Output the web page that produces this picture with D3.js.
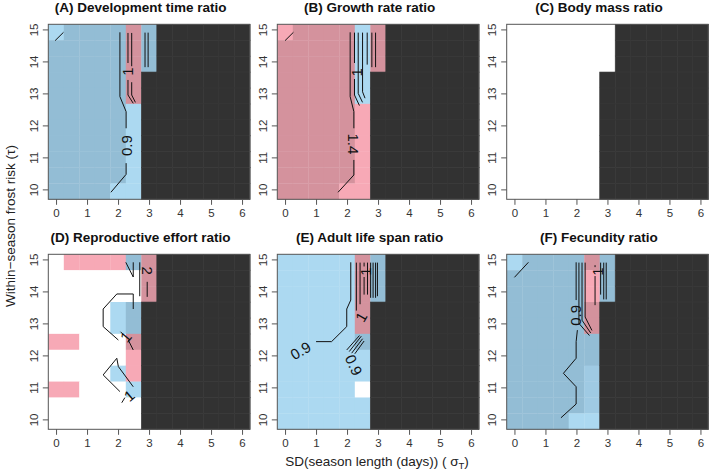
<!DOCTYPE html>
<html><head><meta charset="utf-8">
<script src="https://cdn.jsdelivr.net/npm/d3@7"></script>
<style>
body{margin:0;background:#fff}
svg{display:block}
text{font-family:"Liberation Sans",Arial,Helvetica,sans-serif}
</style>
</head><body>
<svg id="chart" width="709" height="476"></svg>
<script>
// ---------- data ----------
const xValues = [0,0.5,1,1.5,2,2.5,3,3.5,4,4.5,5,5.5,6];           // SD(season length)
const tauValues = [15,14.5,14,13.5,13,12.5,12,11.5,11,10.5,10];     // frost risk, top -> bottom
const xTicks = [0,1,2,3,4,5,6];
const yTicks = [10,11,12,13,14,15];
const titles = ["(A) Development time ratio","(B) Growth rate ratio","(C) Body mass ratio",
                "(D) Reproductive effort ratio","(E) Adult life span ratio","(F) Fecundity ratio"];
// cell classes: d = no data (dark), B = ratio<1 significant, b = ratio<1, m = ratio<1 (intermediate),
// R = ratio>1 significant, r = ratio>1, w = ~1
const gridA = ["bBBBBRBdddddd","BBBBBRBdddddd","BBBBBRBdddddd","BBBBBRddddddd","BBBBBRddddddd",
               "BBBBBbddddddd","BBBBBbddddddd","BBBBBbddddddd","BBBBBbddddddd","BBBBBbddddddd","BBBBbbddddddd"];
const gridB = ["rRRRRbRdddddd","RRRRRbRdddddd","RRRRRbRdddddd","RRRRRbddddddd","RRRRRbddddddd",
               "RRRRRrddddddd","RRRRRrddddddd","RRRRRrddddddd","RRRRRrddddddd","RRRRRrddddddd","RRRRrrddddddd"];
const gridC = ["wwwwwwwdddddd","wwwwwwwdddddd","wwwwwwwdddddd","wwwwwwddddddd","wwwwwwddddddd",
               "wwwwwwddddddd","wwwwwwddddddd","wwwwwwddddddd","wwwwwwddddddd","wwwwwwddddddd","wwwwwwddddddd"];
const gridD = ["wrrrrBRdddddd","wwwwwwRdddddd","wwwwwwRdddddd","wwwwbBddddddd","wwwwbBddddddd",
               "rrwwwRddddddd","wwwwwrddddddd","wwwwbrddddddd","rrwwwbddddddd","wwwwwwddddddd","wwwwwwddddddd"];
const gridE = ["bbbbbRBdddddd","bbbbbRBdddddd","bbbbbRBdddddd","bbbbbRddddddd","bbbbbRddddddd",
               "bbbbbBddddddd","bbbbbbddddddd","bbbbbbddddddd","bbbbbwddddddd","bbbbbbddddddd","bbbbbbddddddd"];
const gridF = ["bBBBBRBdddddd","BBBBBrBdddddd","BBBBBrBdddddd","BBBBBRddddddd","BBBBBRddddddd",
               "BBBBBBddddddd","BBBBBBddddddd","BBBBBmddddddd","BBBBBmddddddd","BBBBBmddddddd","BBBBbbddddddd"];
const palette = {d:"#323232", B:"#93bdd5", b:"#acd9f1", m:"#9fcae3", R:"#d4929d", r:"#f7a9b6", w:"#ffffff"};

// contour lines (x = sigma, y = tau)
const contoursA = [
  [[1.77,9.91],[2.26,10.47],[2.26,10.82]],
  [[2.26,11.91],[2.26,12.43],[2.06,12.90],[2.06,14.91]],
  [[2.32,14.89],[2.32,13.95]],
  [[2.32,13.42],[2.32,12.95],[2.49,12.69]],
  [[2.44,14.89],[2.44,13.85]],
  [[2.44,13.35],[2.44,12.95],[2.56,12.72]],
  [[2.87,14.9],[2.87,13.82]],
  [[2.97,14.9],[2.97,13.82]],
  [[-0.03,14.65],[0.24,14.91]]
];
const labelsA = [{x:2.26,y:11.37,t:"0.9",r:-90},{x:2.30,y:13.68,t:"1",r:-90}];
const contoursB = [
  [[1.71,9.91],[2.22,10.45],[2.22,10.92]],
  [[2.22,11.91],[2.22,12.43],[2.10,12.90],[2.10,14.91]],
  [[2.24,14.9],[2.24,13.95]],
  [[2.24,13.45],[2.24,12.95],[2.40,12.62]],
  [[2.36,14.9],[2.36,13.0],[2.50,12.72]],
  [[2.50,14.9],[2.50,13.05],[2.58,12.85]],
  [[2.65,14.9],[2.65,13.9]],
  [[2.80,14.9],[2.80,13.82]],
  [[2.92,14.9],[2.92,13.82]],
  [[0,14.65],[0.27,14.91]]
];
const labelsB = [{x:2.22,y:11.42,t:"1.4",r:90},{x:2.30,y:13.66,t:"1",r:-90}];
const contoursC = [];
const labelsC = [];
const contoursD = [
  [[2.49,13.45],[2.49,13.92],[1.96,13.92],[1.52,13.45],[1.52,12.90],[2.01,12.48]],
  [[2.06,10.87],[1.52,11.39],[1.96,11.91],[2.01,11.65],[2.49,11.02]],
  [[2.25,14.91],[2.49,14.45]],
  [[2.49,14.91],[2.49,14.45]],
  [[2.70,14.91],[2.70,13.85]],
  [[2.94,14.30],[2.94,13.83]],
  [[2.08,12.74],[2.16,12.66]],
  [[2.33,12.48],[2.49,12.17]],
  [[2.22,10.68],[2.12,10.52]]
];
const labelsD = [{x:2.94,y:14.65,t:"2",r:90},{x:2.25,y:12.58,t:"1",r:-50},{x:2.36,y:10.74,t:"1",r:-40}];
const contoursE = [
  [[1.00,12.43],[1.50,12.43],[1.99,12.90],[1.99,13.45],[2.12,13.73],[2.12,14.91]],
  [[2.30,14.9],[2.30,13.4]],
  [[2.42,14.9],[2.42,13.6]],
  [[2.55,14.9],[2.55,14.78]],[[2.55,14.45],[2.55,13.9]],
  [[2.66,14.9],[2.66,13.9]],
  [[2.76,14.9],[2.76,13.8]],
  [[2.84,14.9],[2.84,13.8]],
  [[2.92,14.9],[2.92,13.8]],
  [[2.98,14.9],[2.98,13.85]],
  [[1.99,12.17],[2.40,12.62]],
  [[2.07,12.12],[2.46,12.60]],
  [[2.15,12.07],[2.50,12.52]],
  [[2.25,12.05],[2.55,12.45]]
];
const labelsE = [{x:0.50,y:12.15,t:"0.9",r:-30},{x:2.22,y:11.70,t:"0.9",r:65},
                 {x:2.58,y:14.62,t:"1",r:-90},{x:2.45,y:13.2,t:"1",r:-60}];
const contoursF = [
  [[1.50,10.05],[1.99,10.48],[1.99,11.02],[1.58,11.44],[1.99,11.91],[1.99,12.43],[2.03,12.79]],
  [[1.99,13.73],[1.99,14.91]],
  [[2.08,14.9],[2.08,13.0],[2.42,12.62]],
  [[2.18,14.9],[2.18,13.1],[2.46,12.70]],
  [[2.28,14.9],[2.28,13.2],[2.50,12.78]],
  [[2.60,14.82],[2.60,14.76]],[[2.60,14.48],[2.60,13.57]],
  [[2.78,14.9],[2.78,13.9]],
  [[2.88,14.9],[2.88,13.75]],
  [[2.96,14.9],[2.96,13.75]],
  [[0,14.44],[0.45,14.91]]
];
const labelsF = [{x:1.97,y:13.25,t:"0.9",r:-90},{x:2.68,y:14.62,t:"1",r:-90}];

const panels = [
  {grid:gridA, contours:contoursA, labels:labelsA},
  {grid:gridB, contours:contoursB, labels:labelsB},
  {grid:gridC, contours:contoursC, labels:labelsC},
  {grid:gridD, contours:contoursD, labels:labelsD},
  {grid:gridE, contours:contoursE, labels:labelsE},
  {grid:gridF, contours:contoursF, labels:labelsF}
];

// ---------- layout ----------
const svg = d3.select("#chart");
const plotLeft = [48.3, 277.3, 506.7];
const plotTop = [24.3, 254.3];
const W = 201.5, H = 175;

panels.forEach((p, i) => {
  const col = i % 3, row = Math.floor(i / 3);
  const L = plotLeft[col], T = plotTop[row];
  const x = d3.scaleLinear().domain([-0.25, 6.25]).range([L, L + W]);
  const y = d3.scaleLinear().domain([9.69, 15.16]).range([T + H, T]);
  const yBand = d3.scaleBand().domain(tauValues).range([T, T + H]);
  const g = svg.append("g");

  const cells = [];
  p.grid.forEach((rowStr, ri) => {
    xValues.forEach((xv, ci) => cells.push({x: xv, tau: tauValues[ri], c: rowStr[ci]}));
  });
  g.selectAll("rect.cell").data(cells).enter().append("rect")
    .attr("x", d => x(d.x - 0.25))
    .attr("y", d => yBand(d.tau))
    .attr("width", d => x(d.x + 0.25) - x(d.x - 0.25) + 0.3)
    .attr("height", yBand.bandwidth() + 0.3)
    .attr("fill", d => palette[d.c])
    .attr("stroke", d => d.c === "d" ? "#3a3a3a" : "none")
    .attr("stroke-width", 0.6);

  // contours
  const line = d3.line().x(d => x(d[0])).y(d => y(d[1]));
  g.selectAll("path.ct").data(p.contours).enter().append("path")
    .attr("d", line).attr("fill", "none").attr("stroke", "#111").attr("stroke-width", 1);
  g.selectAll("text.cl").data(p.labels).enter().append("text")
    .attr("transform", d => `translate(${x(d.x)},${y(d.y)}) rotate(${d.r})`)
    .attr("text-anchor", "middle").attr("dominant-baseline", "central")
    .attr("font-size", 15).attr("fill", "#111").text(d => d.t);

  // box
  g.append("rect").attr("x", L).attr("y", T).attr("width", W).attr("height", H)
    .attr("fill", "none").attr("stroke", "#555").attr("stroke-width", 1);

  // x axis
  const xa = g.append("g").attr("transform", `translate(0,${T + H})`)
    .call(d3.axisBottom(x).tickValues(xTicks).tickSize(5.5).tickPadding(4).tickFormat(d3.format("d")));
  xa.select(".domain").remove();
  xa.selectAll("line").attr("stroke", "#555");
  xa.selectAll("text").attr("font-size", 11.5).attr("fill", "#333").attr("font-family", '"Liberation Sans",Arial,sans-serif');

  // y axis
  const ya = g.append("g").attr("transform", `translate(${L},0)`)
    .call(d3.axisLeft(y).tickValues(yTicks).tickSize(5.5).tickFormat(d3.format("d")));
  ya.select(".domain").remove();
  ya.selectAll("line").attr("stroke", "#555");
  ya.selectAll("text")
    .attr("font-size", 11.5).attr("fill", "#333").attr("font-family", '"Liberation Sans",Arial,sans-serif')
    .attr("x", null).attr("dy", null)
    .attr("text-anchor", "middle")
    .attr("transform", "translate(-10.5,0) rotate(-90)")
    .attr("y", 0);

  // title
  g.append("text").attr("x", L + W / 2 - 8.5).attr("y", T - 12)
    .attr("text-anchor", "middle").attr("font-size", 13.5).attr("font-weight", "bold")
    .attr("fill", "#111").text(titles[i]);
});

// axis titles
const xl = svg.append("text").attr("x", 377).attr("y", 466).attr("text-anchor", "middle")
  .attr("font-size", 13.5).attr("fill", "#222");
xl.append("tspan").text("SD(season length (days)) ( σ");
xl.append("tspan").attr("font-size", 9.5).attr("dy", 3).text("T");
xl.append("tspan").attr("dy", -3).text(")");

svg.append("text").attr("transform", "translate(14.5,226) rotate(-90)").attr("text-anchor", "middle")
  .attr("font-size", 13.5).attr("fill", "#222").text("Within−season frost risk (τ)");
</script>
</body></html>
